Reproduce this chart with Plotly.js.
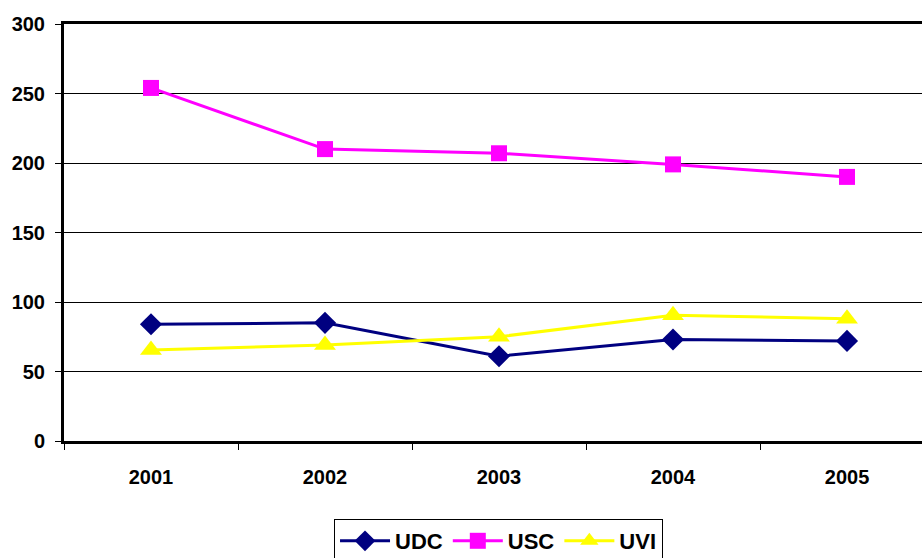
<!DOCTYPE html>
<html>
<head>
<meta charset="utf-8">
<script src="https://cdn.plot.ly/plotly-3.0.1.min.js"></script>
<style>html,body{margin:0;padding:0;background:#fff;}#chart{width:922px;height:558px;}</style>
</head>
<body>
<div id="chart"></div>
<script>
var years = ["2001", "2002", "2003", "2004", "2005"];
var udc = [84, 85, 61, 73, 72];
var usc = [254, 210, 207, 199, 190];
var uvi = [65.5, 69, 75, 90.5, 88];
var yTicks = [0, 50, 100, 150, 200, 250, 300];

var traces = [
  {x: years, y: udc, name: "UDC", type: "scatter", mode: "lines+markers",
   line: {color: "#000080", width: 3}, marker: {symbol: "diamond", size: 17, color: "#000080"}},
  {x: years, y: usc, name: "USC", type: "scatter", mode: "lines+markers",
   line: {color: "#FF00FF", width: 3}, marker: {symbol: "square", size: 16, color: "#FF00FF"}},
  {x: years, y: uvi, name: "UVI", type: "scatter", mode: "lines+markers",
   line: {color: "#FFFF00", width: 3}, marker: {symbol: "triangle-up", size: 19, color: "#FFFF00"}}
];

var layout = {
  width: 922, height: 558,
  margin: {l: 64, r: 0, t: 24, b: 117},
  paper_bgcolor: "#fff", plot_bgcolor: "#fff",
  font: {family: "Liberation Sans, Arial, sans-serif", color: "#000"},
  showlegend: true,
  legend: {orientation: "h", xref: "container", yref: "container",
           x: 0.5407, xanchor: "center", y: 0.0699, yanchor: "top",
           bordercolor: "#000", borderwidth: 1, bgcolor: "#fff",
           font: {size: 22, family: "Liberation Sans, Arial, sans-serif", weight: "bold"},
           itemwidth: 50, tracegroupgap: 0},
  xaxis: {type: "category", range: [-0.5, 4.431], tickson: "boundaries",
          ticks: "outside", ticklen: 6, tickcolor: "#000", tickwidth: 1,
          showline: true, linecolor: "#000", linewidth: 3, mirror: true,
          showgrid: false, zeroline: false, fixedrange: true,
          ticklabelstandoff: 16,
          tickfont: {size: 20, weight: "bold"}},
  yaxis: {range: [0, 300], tickmode: "array", tickvals: yTicks, ticktext: yTicks.map(String),
          ticks: "outside", ticklen: 6, tickcolor: "#000", tickwidth: 1,
          showline: true, linecolor: "#000", linewidth: 3,
          showgrid: true, gridcolor: "#000", gridwidth: 1, zeroline: false,
          ticklabelstandoff: 6,
          tickfont: {size: 20, weight: "bold"}}
};

Plotly.newPlot("chart", traces, layout, {displayModeBar: false, staticPlot: true});
</script>
</body>
</html>
